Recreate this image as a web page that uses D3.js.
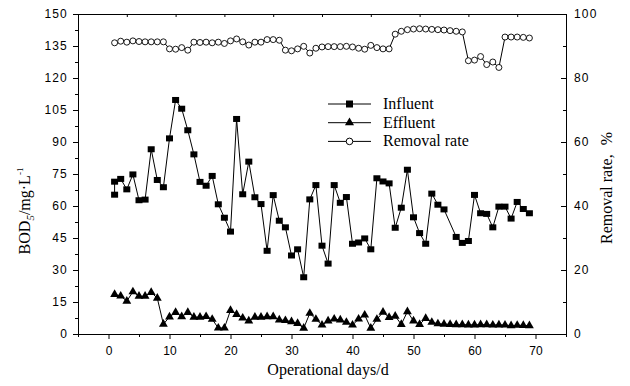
<!DOCTYPE html>
<html>
<head>
<meta charset="utf-8">
<script src="https://cdn.jsdelivr.net/npm/d3@7"></script>
<style>
    body { margin: 0; background: #fff; }
    svg { display: block; }
    .axis text { font-family: "Liberation Sans", Arial, sans-serif; font-size: 12px; fill: #000; }
    .axis path, .axis line { stroke: #000; stroke-width: 1; }
    .ttl { font-family: "Liberation Serif", "Times New Roman", serif; font-size: 16px; fill: #000; }
</style>
</head>
<body>
<svg id="chart" width="630" height="386"></svg>
<script>
// influent BOD5 (mg/L), day 56 has no sample
const inflDays = [1, 1, 2, 3, 4, 5, 6, 7, 8, 9, 10, 11, 12, 13, 14, 15, 16, 17, 18, 19, 20,
    21, 22, 23, 24, 25, 26, 27, 28, 29, 30, 31, 32, 33, 34, 35, 36, 37, 38, 39, 40,
    41, 42, 43, 44, 45, 46, 47, 48, 49, 50, 51, 52, 53, 54, 55, 57, 58, 59, 60,
    61, 62, 63, 64, 65, 66, 67, 68, 69];
const inflValues = [65.3, 71.4, 72.7, 67.8, 74.8, 62.7, 63.0, 86.6, 72.2, 68.8, 91.7, 109.7, 105.6, 95.5, 84.2,
    71.3, 69.5, 74.1, 60.8, 54.5, 48.0, 100.8, 65.5, 80.8, 64.1, 60.9, 39.0, 65.1, 53.1, 50.0,
    36.8, 39.7, 26.6, 63.1, 69.8, 41.4, 33.0, 69.8, 61.5, 64.2, 42.3, 42.9, 44.8, 39.7, 73.0,
    71.5, 70.6, 49.8, 59.2, 77.0, 54.7, 47.3, 42.3, 65.8, 60.6, 58.4, 45.5, 42.7, 43.6, 65.2,
    56.6, 56.3, 50.0, 59.7, 59.7, 54.1, 61.9, 58.6, 56.6];

// effluent BOD5 (mg/L) and removal rate (%), days 1..69
const days = d3.range(1, 70);
const effValues = [18.6, 17.8, 15.4, 19.8, 17.7, 17.7, 19.5, 16.8, 4.6, 8.0, 10.1, 8.1, 10.1, 7.9, 7.9,
    8.2, 6.9, 2.8, 2.8, 11.1, 9.2, 7.5, 6.1, 7.9, 7.9, 8.1, 8.1, 6.6, 6.3, 5.8,
    5.0, 2.7, 9.7, 6.9, 4.2, 6.1, 7.0, 6.6, 5.5, 4.2, 7.0, 8.9, 2.7, 6.9, 10.2,
    7.8, 8.4, 4.5, 10.5, 6.1, 4.5, 7.3, 5.5, 4.8, 4.6, 4.5, 4.4, 4.4, 4.3, 4.3,
    4.4, 4.4, 4.2, 4.3, 4.2, 3.9, 4.1, 4.0, 3.9];
const removalValues = [91.0, 91.5, 91.2, 91.6, 91.4, 91.3, 91.3, 91.3, 91.3, 89.1, 89.0, 89.5, 88.7, 91.2, 91.1,
    91.2, 91.0, 91.2, 90.8, 91.6, 92.2, 91.3, 90.3, 91.2, 91.2, 92.0, 92.0, 91.8, 88.7, 88.5,
    89.1, 89.9, 87.8, 89.3, 89.7, 89.8, 89.8, 89.8, 89.9, 89.7, 89.3, 89.0, 90.2, 89.5, 89.1,
    89.1, 93.7, 94.6, 95.1, 95.3, 95.4, 95.3, 95.2, 95.1, 95.0, 94.8, 94.6, 94.4, 85.4, 85.6,
    86.7, 84.2, 85.0, 83.3, 92.8, 92.8, 92.8, 92.7, 92.5];

const xTicks = [0, 10, 20, 30, 40, 50, 60, 70];
const xMinor = [-5, 5, 15, 25, 35, 45, 55, 65, 75];
const leftTicks = [0, 15, 30, 45, 60, 75, 90, 105, 120, 135, 150];
const leftMinor = [7.5, 22.5, 37.5, 52.5, 67.5, 82.5, 97.5, 112.5, 127.5, 142.5];
const rightTicks = [0, 20, 40, 60, 80, 100];
const rightMinor = [10, 30, 50, 70, 90];
const legendItems = ['Influent', 'Effluent', 'Removal rate'];

const svg = d3.select('#chart');
const L = 78, R = 566, T = 14, B = 334;

const x = d3.scaleLinear().domain([-5, 75]).range([L, R]);
const yL = d3.scaleLinear().domain([0, 150]).range([B, T]);
const yR = d3.scaleLinear().domain([0, 100]).range([B, T]);
const xTop = d3.scaleLinear().domain([0, 10]).range([L, R]);

/***
 * axes
 */
svg.append('g').attr('class', 'axis').attr('transform', `translate(0,${B})`)
    .call(d3.axisBottom(x).tickValues(xTicks).tickSize(5).tickPadding(7).tickSizeOuter(0));
svg.append('g').attr('class', 'axis').attr('transform', `translate(0,${B})`)
    .call(d3.axisBottom(x).tickValues(xMinor).tickSize(3).tickFormat('').tickSizeOuter(0));

svg.append('g').attr('class', 'axis').attr('transform', `translate(0,${T})`)
    .call(d3.axisTop(xTop).ticks(10).tickSize(-3).tickFormat('').tickSizeOuter(0));

svg.append('g').attr('class', 'axis').attr('transform', `translate(${L},0)`)
    .call(d3.axisLeft(yL).tickValues(leftTicks).tickSize(5).tickPadding(5).tickSizeOuter(0))
    .selectAll('text').attr('letter-spacing', 1.2);
svg.append('g').attr('class', 'axis').attr('transform', `translate(${L},0)`)
    .call(d3.axisLeft(yL).tickValues(leftMinor).tickSize(3).tickFormat('').tickSizeOuter(0));

svg.append('g').attr('class', 'axis').attr('transform', `translate(${R},0)`)
    .call(d3.axisRight(yR).tickValues(rightTicks).tickSize(-5).tickPadding(8).tickSizeOuter(0))
    .selectAll('text').attr('letter-spacing', 1.2);
svg.append('g').attr('class', 'axis').attr('transform', `translate(${R},0)`)
    .call(d3.axisRight(yR).tickValues(rightMinor).tickSize(-3).tickFormat('').tickSizeOuter(0));

// titles
svg.append('text').attr('class', 'ttl')
    .attr('x', 328).attr('y', 375).attr('text-anchor', 'middle')
    .text('Operational days/d');

const lt = svg.append('text').attr('class', 'ttl')
    .attr('transform', 'translate(30,211) rotate(-90)').attr('text-anchor', 'middle');
lt.append('tspan').text('BOD');
lt.append('tspan').attr('font-size', 11).attr('font-style', 'italic').attr('dy', 4).text('5');
lt.append('tspan').attr('dy', -4).text('/mg·L');
lt.append('tspan').attr('font-size', 9).attr('dy', -7).text('-1');

const rt = svg.append('text').attr('class', 'ttl')
    .attr('transform', 'translate(612,188) rotate(-90)').attr('text-anchor', 'middle');
rt.append('tspan').text('Removal rate,');
rt.append('tspan').attr('dx', 9).text('%');

/***
 * series
 */
const g = svg.append('g');
const lineStyle = sel => sel.attr('fill', 'none').attr('stroke', '#000').attr('stroke-width', 1);
const tri = d3.symbol().type(d3.symbolTriangle).size(34);

const infl = inflDays.map((d, i) => [d, inflValues[i]]);
const eff = days.map((d, i) => [d, effValues[i]]);
const rem = days.map((d, i) => [d, removalValues[i]]);

g.append('path').datum(eff).call(lineStyle)
    .attr('d', d3.line().x(d => x(d[0])).y(d => yL(d[1])));
g.append('path').datum(infl).call(lineStyle)
    .attr('d', d3.line().x(d => x(d[0])).y(d => yL(d[1])));
g.append('path').datum(rem).call(lineStyle)
    .attr('d', d3.line().x(d => x(d[0])).y(d => yR(d[1])));

g.selectAll('.sq').data(infl).enter().append('rect')
    .attr('x', d => x(d[0]) - 3.5).attr('y', d => yL(d[1]) - 3)
    .attr('width', 7).attr('height', 6).attr('fill', '#000');

g.selectAll('.tri').data(eff).enter().append('path')
    .attr('d', tri)
    .attr('transform', d => `translate(${x(d[0])},${yL(d[1])})`)
    .attr('fill', '#000');

g.selectAll('.circ').data(rem).enter().append('circle')
    .attr('cx', d => x(d[0])).attr('cy', d => yR(d[1])).attr('r', 3)
    .attr('fill', '#fff').attr('stroke', '#000').attr('stroke-width', 0.9);

/***
 * legend
 */
const legend = svg.append('g').selectAll('g')
    .data(legendItems).enter().append('g')
    .attr('transform', (d, i) => `translate(0,${104 + i * 18.7})`);

legend.append('line').attr('x1', 328).attr('x2', 371).attr('stroke', '#000');
legend.filter((d, i) => i === 0).append('rect')
    .attr('x', 346).attr('y', -3.5).attr('width', 7).attr('height', 7).attr('fill', '#000');
legend.filter((d, i) => i === 1).append('path')
    .attr('d', d3.symbol().type(d3.symbolTriangle).size(36))
    .attr('transform', 'translate(349.5,0)').attr('fill', '#000');
legend.filter((d, i) => i === 2).append('circle')
    .attr('cx', 349.5).attr('cy', 0).attr('r', 3.3)
    .attr('fill', '#fff').attr('stroke', '#000');
legend.append('text').attr('class', 'ttl')
    .attr('x', 383).attr('y', 5).text(d => d);
</script>
</body>
</html>
